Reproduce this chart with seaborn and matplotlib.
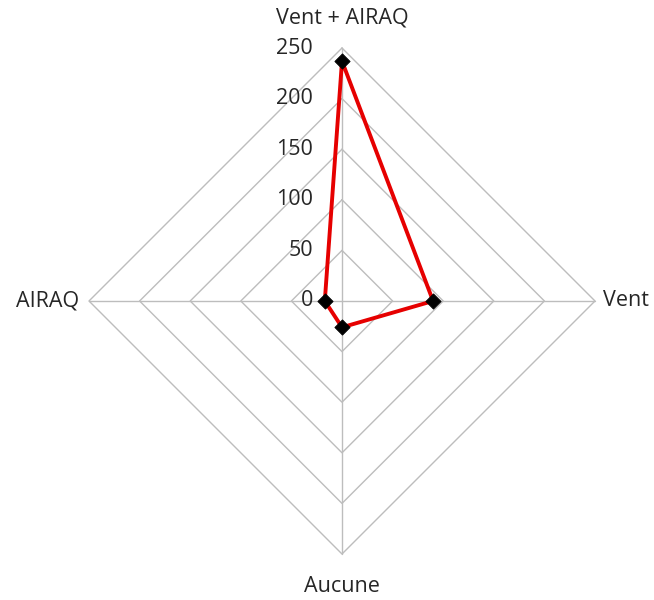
import numpy as np
import pandas as pd
import seaborn as sns
import matplotlib
matplotlib.use("Agg")
import matplotlib.pyplot as plt

# radar data, clockwise from the top
categories = ["Vent + AIRAQ", "Vent", "Aucune", "AIRAQ"]
values = [237, 90, 26, 17]
ticks = [0, 50, 100, 150, 200, 250]
rmax = 250

sns.set_theme(style="white")
plt.rcParams['font.family'] = ['Open Sans', 'DejaVu Sans']

n = len(categories)
angles = np.pi / 2 - np.arange(n) * 2 * np.pi / n

fig = plt.figure(figsize=(6.54, 6.0), dpi=100)
ax = fig.add_axes([0, 0, 1, 1])
px = rmax / 253.0
ax.set_xlim(-342 * px, (654 - 342) * px)
ax.set_ylim(-299 * px, 301 * px)
ax.set_aspect("equal")
ax.axis("off")

grid_col = "#bdbdbd"
txt_col = "#262626"
fs = 15.5
# polygon rings
for t in ticks[1:]:
    gx = list(t * np.cos(angles)) + [t * np.cos(angles[0])]
    gy = list(t * np.sin(angles)) + [t * np.sin(angles[0])]
    ax.plot(gx, gy, color=grid_col, lw=1.0, zorder=1)
# spokes
for a in angles:
    ax.plot([0, rmax * np.cos(a)], [0, rmax * np.sin(a)], color=grid_col, lw=1.0, zorder=1)

# tick labels along top axis
for t in ticks:
    ax.text(-29 * px, t, str(t), ha="right", va="center", fontsize=fs, color=txt_col)

# category labels
ax.text(0, rmax + 30 * px, categories[0], ha="center", va="center", fontsize=fs, color=txt_col)
ax.text(rmax + 8 * px, 0, categories[1], ha="left", va="center", fontsize=fs, color=txt_col)
ax.text(0, -rmax - 33 * px, categories[2], ha="center", va="center", fontsize=fs, color=txt_col)
ax.text(-rmax - 10 * px, 0, categories[3], ha="right", va="center", fontsize=fs, color=txt_col)

vals = np.array(values, dtype=float)
df = pd.DataFrame({
    "x": list(vals * np.cos(angles)) + [vals[0] * np.cos(angles[0])],
    "y": list(vals * np.sin(angles)) + [vals[0] * np.sin(angles[0])],
})
sns.lineplot(data=df, x="x", y="y", sort=False, color="#e60000", lw=2.8, ax=ax, zorder=3,
             estimator=None)
sns.scatterplot(data=df.iloc[:n], x="x", y="y", marker="D", s=60, color="black",
                edgecolor="black", ax=ax, zorder=4)
ax.set_xlabel("")
ax.set_ylabel("")

fig.savefig("out.png", dpi=100)
